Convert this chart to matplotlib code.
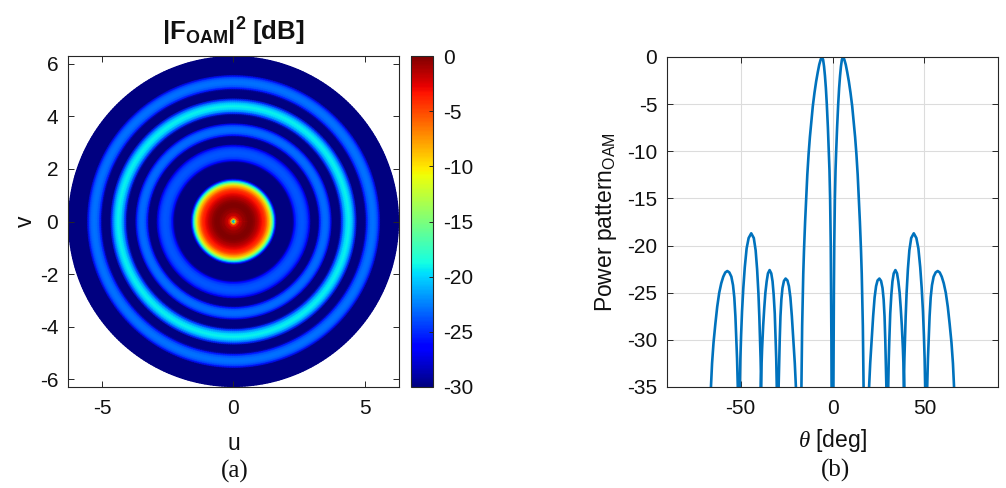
import numpy as np
import matplotlib
matplotlib.use('Agg')
import matplotlib.pyplot as plt

plt.rcParams['font.family'] = ['Liberation Sans', 'DejaVu Sans']
plt.rcParams['mathtext.fontset'] = 'custom'
plt.rcParams['mathtext.rm'] = 'Liberation Sans'
plt.rcParams['mathtext.bf'] = 'Liberation Sans:bold'
plt.rcParams['mathtext.it'] = 'Liberation Serif:italic'
plt.rcParams['axes.unicode_minus'] = False

# ---------------- data ----------------
# (a) radial profile of |F_OAM|^2 in dB versus radius in the (u, v) plane
ring_radius = [0.00, 0.04, 0.08, 0.13, 0.22, 0.35, 0.55, 0.68, 0.83, 0.97, 1.09,
               1.21, 1.29, 1.36, 1.42, 1.47, 1.52, 1.57, 1.61, 1.65, 1.71,
               2.18, 2.25, 2.32, 2.40, 2.49, 2.60, 2.71, 2.80, 2.88, 2.95, 3.02,
               3.15, 3.22, 3.28, 3.35, 3.42, 3.49, 3.56, 3.63, 3.70, 3.76, 3.83,
               3.98, 4.05, 4.12, 4.20, 4.29, 4.38, 4.47, 4.56, 4.64, 4.71, 4.78,
               4.93, 5.00, 5.07, 5.14, 5.22, 5.30, 5.38, 5.46, 5.53, 5.60, 5.67,
               6.283]
ring_level = [-24.0, -17.0, -9.0, -4.5, -2.2, -1.0, -0.1, 0.0, -0.9, -2.0, -3.3,
              -4.8, -7.0, -9.0, -12.0, -15.0, -19.0, -23.5, -27.0, -30.0, -36.0,
              -36.0, -30.0, -26.2, -24.6, -23.9, -23.6, -23.9, -24.6, -26.2, -30.0, -36.0,
              -36.0, -30.0, -25.8, -23.9, -23.2, -23.0, -23.2, -23.9, -25.8, -30.0, -36.0,
              -36.0, -30.0, -25.0, -21.8, -19.8, -19.0, -19.8, -21.8, -25.0, -30.0, -36.0,
              -36.0, -30.0, -25.6, -23.7, -23.0, -22.8, -23.0, -23.7, -25.6, -30.0, -36.0,
              -40.0]
cbar_ticks = [0, -5, -10, -15, -20, -25, -30]

# (b) power pattern lobes, positive-theta side (the pattern is symmetric)
main_theta = [0.50, 0.60, 0.75, 0.95, 1.30, 1.65, 2.00, 2.50, 3.10, 3.60, 4.10,
              4.60, 5.10, 5.70, 6.40, 7.20, 8.00, 8.90, 9.80, 10.70, 11.50,
              12.30, 13.00, 13.70, 14.30, 14.90, 15.50, 15.90, 16.20, 16.50,
              16.70, 16.90]
main_level = [-35.0, -30.0, -25.0, -20.0, -15.0, -12.0, -10.0, -7.5, -5.0, -3.3,
              -2.0, -1.0, -0.3, 0.0, -0.25, -0.8, -1.6, -2.6, -3.8, -5.2, -6.8,
              -8.5, -10.3, -12.5, -15.0, -17.5, -20.5, -23.0, -25.5, -28.5,
              -31.5, -35.0]
lobe1_theta = [19.9, 20.5, 21.3, 22.1, 22.9, 23.7, 24.5, 25.5, 26.4, 27.2,
               27.8, 28.3, 28.7, 29.0, 29.3]
lobe1_level = [-35.0, -32.5, -30.0, -27.5, -25.5, -24.3, -23.7, -23.5, -23.75,
               -24.5, -25.7, -27.5, -30.0, -32.5, -35.0]
lobe2_theta = [30.3, 30.6, 30.9, 31.4, 32.0, 32.6, 33.3, 34.2, 35.1, 35.8,
               36.5, 37.1, 37.7, 38.3, 38.7, 39.0]
lobe2_level = [-35.0, -32.0, -30.0, -27.2, -25.2, -23.8, -22.95, -22.6, -22.95,
               -23.8, -25.0, -26.6, -28.5, -31.0, -33.2, -35.0]
lobe3_theta = [38.8, 39.1, 39.4, 39.8, 40.3, 41.0, 41.8, 42.8, 44.2, 45.6,
               46.7, 47.7, 48.5, 49.2, 49.7, 50.1, 50.4]
lobe3_level = [-35.0, -32.0, -30.0, -27.5, -25.0, -22.5, -20.5, -19.2, -18.7,
               -19.2, -20.3, -22.3, -24.5, -27.0, -29.5, -32.0, -35.0]
lobe4_theta = [51.5, 51.9, 52.3, 52.8, 53.4, 54.1, 55.0, 56.1, 57.2, 58.3,
               59.4, 60.5, 61.6, 62.7, 63.7, 64.7, 65.5, 66.1]
lobe4_level = [-35.0, -32.0, -30.0, -27.5, -25.5, -24.2, -23.3, -22.85, -22.7,
               -22.85, -23.3, -24.0, -25.0, -26.5, -28.3, -30.3, -32.5, -35.0]

theta_ticks = [-50, 0, 50]
power_ticks = [0, -5, -10, -15, -20, -25, -30, -35]

# ---------------- figure ----------------
W, H = 1006, 488
fig = plt.figure(figsize=(W / 100, H / 100), dpi=100)
ax1 = fig.add_axes([68 / W, 101 / H, 331 / W, 331 / H])
cax = fig.add_axes([411 / W, 101 / H, 22 / W, 331 / H])
ax2 = fig.add_axes([667 / W, 101 / H, 331 / W, 330 / H])

edge = '#262626'
txt = '#111111'
tick_fs = 15
label_fs = 16.5

# ---- (a) map ----
ang = np.linspace(0, 2 * np.pi, 361)
R, T = np.meshgrid(np.asarray(ring_radius), ang)
C = np.tile(np.asarray(ring_level), (len(ang), 1))
mesh = ax1.pcolormesh(R * np.cos(T), R * np.sin(T), C, cmap='jet',
                      vmin=-30, vmax=0, shading='gouraud', rasterized=True)
ax1.set_xlim(-6.3, 6.3)
ax1.set_ylim(-6.3, 6.3)
ax1.set_xticks([-5, 0, 5])
ax1.set_yticks([-6, -4, -2, 0, 2, 4, 6])
ax1.tick_params(direction='in', length=4, width=0.7, top=True, right=True,
                labelsize=tick_fs, colors=edge, labelcolor=txt)
ax1.tick_params(axis='x', pad=9)
ax1.tick_params(axis='y', pad=7)
for s in ax1.spines.values():
    s.set_color(edge)
    s.set_linewidth(0.8)
ax1.set_xlabel('u', fontsize=label_fs, labelpad=10, color=txt)
ax1.set_ylabel('v', fontsize=label_fs, labelpad=2, color=txt)
ax1.set_title(r'$\mathbf{|F_{OAM}|^2\ [dB]}$', fontsize=18.5, pad=11,
              color=txt)

cb = fig.colorbar(mesh, cax=cax, ticks=cbar_ticks)
cb.outline.set_edgecolor(edge)
cb.outline.set_linewidth(0.8)
cax.tick_params(direction='in', length=3, width=0.7, labelsize=tick_fs,
                colors=edge, labelcolor=txt, pad=7)
cax.set_yticklabels([str(v) for v in cbar_ticks])

# ---- (b) power pattern ----
lobes_t = [main_theta, lobe1_theta, lobe2_theta, lobe3_theta, lobe4_theta]
lobes_l = [main_level, lobe1_level, lobe2_level, lobe3_level, lobe4_level]
xs, ys = [], []
for t_, l_ in zip(reversed(lobes_t), reversed(lobes_l)):
    xs += [-v for v in reversed(t_)] + [np.nan]
    ys += list(reversed(l_)) + [np.nan]
for t_, l_ in zip(lobes_t, lobes_l):
    xs += list(t_) + [np.nan]
    ys += list(l_) + [np.nan]

ax2.plot(xs, ys, color='#0072BD', lw=1.9, solid_joinstyle='round')
ax2.set_xlim(-90, 90)
ax2.set_ylim(-35, 0)
ax2.set_xticks(theta_ticks)
ax2.set_yticks(power_ticks)
ax2.grid(True, color='#dcdcdc', lw=0.8)
ax2.set_axisbelow(True)
ax2.tick_params(direction='in', length=4, width=0.7, top=True, right=True,
                labelsize=tick_fs, colors=edge, labelcolor=txt)
ax2.tick_params(axis='x', pad=9)
ax2.tick_params(axis='y', pad=7)
for s in ax2.spines.values():
    s.set_color(edge)
    s.set_linewidth(0.8)
ax2.set_xlabel(r'$\it{\theta}$ [deg]', fontsize=label_fs, labelpad=6,
               color=txt)
ax2.set_ylabel(r'Power pattern$_{\mathrm{OAM}}$', fontsize=label_fs,
               labelpad=6, color=txt)

fig.text(235 / W, 1 - 471 / H, '(a)', family='Liberation Serif', fontsize=18,
         ha='center', va='center', color=txt)
fig.text(836 / W, 1 - 470 / H, '(b)', family='Liberation Serif', fontsize=18,
         ha='center', va='center', color=txt)

fig.savefig('out.png', dpi=100, facecolor='white')
